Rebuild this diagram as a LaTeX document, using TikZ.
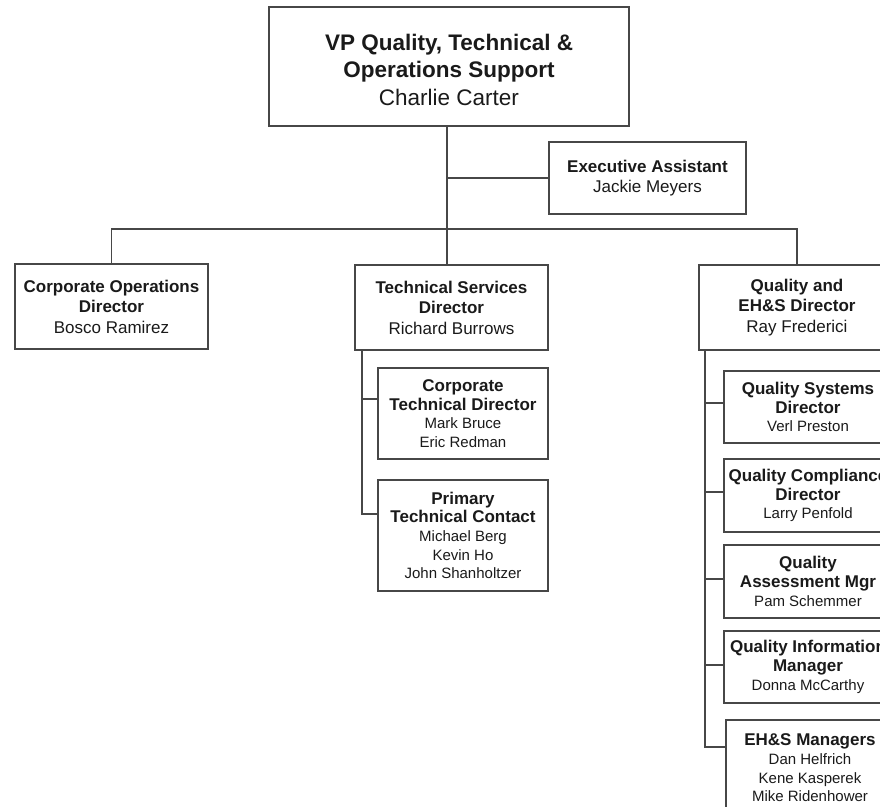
\documentclass[tikz,border=0pt]{standalone}
\usepackage{fontspec}
\setmainfont{Liberation Sans}
\usetikzlibrary{calc}

\definecolor{linegray}{HTML}{474747}
\definecolor{inkgray}{HTML}{1A1A1A}

% type sizes
\newcommand\headfont{\fontsize{22.5}{26.5}\selectfont}
\newcommand\deptfont{\fontsize{17}{20.5}\selectfont}
\newcommand\unitfont{\fontsize{15}{18.7}\selectfont}
\newcommand\unittitle{\fontsize{17}{18.7}\selectfont\bfseries}
\newcommand\unitname{\fontsize{15}{18.7}\selectfont\mdseries}

\tikzset{
  orgbox/.style={draw=linegray, line width=1.7pt, fill=white, inner sep=0pt,
                 align=center, text=inkgray},
  headbox/.style={orgbox},
  headtext/.style={inner sep=0pt, align=center, text=inkgray, font=\headfont},
  deptbox/.style={orgbox, font=\deptfont},
  unitbox/.style={orgbox, font=\unitfont},
  link/.style={draw=linegray, line width=1.7pt},
}

\begin{document}
\begin{tikzpicture}[x=1pt, y=-1pt]
\useasboundingbox (0,0) rectangle (880,806);
\clip (0,0) rectangle (880,806);

% top of the chart
\node[headbox, minimum width=360pt, minimum height=119pt] (vp) at (449,66.5) {};
\node[headtext] (vptext) at (449,70)
  {\bfseries VP Quality, Technical \&\\
   \bfseries Operations Support\\[2pt]
   \mdseries Charlie Carter};
\node[deptbox, minimum width=197pt, minimum height=72pt] (ea) at (647.5,178)
  {\bfseries Executive Assistant\\ \mdseries Jackie Meyers};

% directors
\node[deptbox, minimum width=193pt, minimum height=85pt] (cod) at (111.5,306.5)
  {\bfseries Corporate Operations\\ \bfseries Director\\ \mdseries Bosco Ramirez};
\node[deptbox, minimum width=193pt, minimum height=85pt] (tsd) at (451.5,307.5)
  {\bfseries Technical Services\\ \bfseries Director\\ \mdseries Richard Burrows};
\node[deptbox, minimum width=196pt, minimum height=85pt] (qed) at (797,307.5)
  {\bfseries Quality and\\ \bfseries EH\&S Director\\ \mdseries Ray Frederici};

% technical services units
\node[unitbox, minimum width=170pt, minimum height=91pt] (ctd) at (463,413.5)
  {\unittitle Corporate\\ \unittitle Technical Director\\
   \unitname Mark Bruce\\ \unitname Eric Redman};
\node[unitbox, minimum width=170pt, minimum height=111pt] (ptc) at (463,535.5)
  {\unittitle Primary\\ \unittitle Technical Contact\\
   \unitname Michael Berg\\ \unitname Kevin Ho\\ \unitname John Shanholtzer};

% quality and EH&S units (the column runs past the right edge)
\node[unitbox, minimum width=168pt, minimum height=72pt] (qsd) at (808,407)
  {\unittitle Quality Systems\\ \unittitle Director\\ \unitname Verl Preston};
\node[unitbox, minimum width=168pt, minimum height=73pt] (qcd) at (808,495.5)
  {\unittitle Quality Compliance\\ \unittitle Director\\ \unitname Larry Penfold};
\node[unitbox, minimum width=168pt, minimum height=73pt] (qam) at (808,581.5)
  {\unittitle Quality\\ \unittitle Assessment Mgr\\ \unitname Pam Schemmer};
\node[unitbox, minimum width=168pt, minimum height=72pt] (qim) at (808,667)
  {\unittitle Quality Information\\ \unittitle Manager\\ \unitname Donna McCarthy};
\node[unitbox, minimum width=168pt, minimum height=96pt] (ehs) at (810,768)
  {\unittitle EH\&S Managers\\ \unitname Dan Helfrich\\
   \unitname Kene Kasperek\\ \unitname Mike Ridenhower};

% reporting lines
\coordinate (bus) at (447,229);
\draw[link] (vp.south -| bus) -- (bus |- tsd.north);
\draw[link] (bus |- ea.west) -- (ea.west);
\draw[link] (cod.north) -- (cod.north |- bus) -- (qed.north |- bus) -- (qed.north);

\coordinate (spm) at ([xshift=8pt]tsd.south west);
\draw[link] (spm) |- ([yshift=-32pt]ctd.north west);
\draw[link] (spm) |- ([yshift=-35pt]ptc.north west);

\coordinate (spr) at ([xshift=7pt]qed.south west);
\draw[link] (spr) |- ([yshift=-33pt]qsd.north west);
\draw[link] (spr) |- ([yshift=-34pt]qcd.north west);
\draw[link] (spr) |- ([yshift=-35pt]qam.north west);
\draw[link] (spr) |- ([yshift=-35pt]qim.north west);
\draw[link] (spr) |- ([yshift=-28pt]ehs.north west);
\end{tikzpicture}
\end{document}
